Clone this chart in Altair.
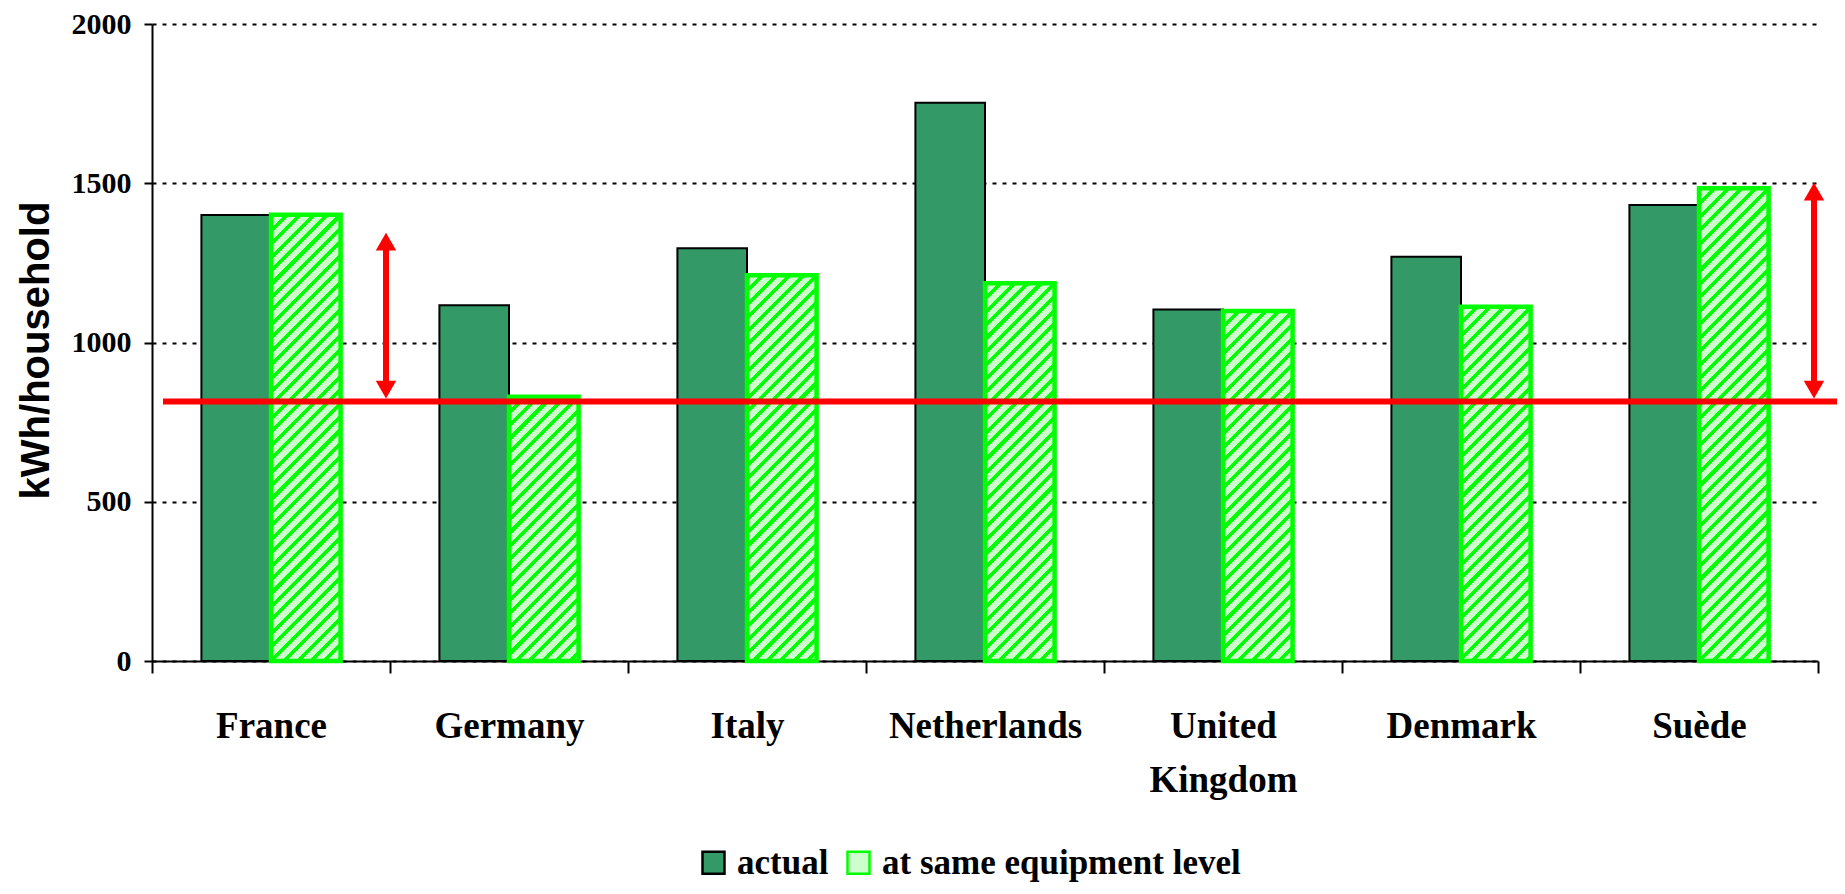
import math
import altair as alt
import pandas as pd

# ---- data ----
countries = ["France", "Germany", "Italy", "Netherlands", "United Kingdom", "Denmark", "Suède"]
actual = [1400, 1117, 1296, 1753, 1104, 1269, 1432]
same_level = [1401, 830, 1211, 1186, 1099, 1112, 1484]
series_names = ["actual", "at same equipment level"]
reference_level = [815]
arrow_at = ["France", "Suède"]
arrow_top = [1345, 1502]
y_ticks = [0, 500, 1000, 1500, 2000]

# ---- layout / style ----
W, H = 1666, 637
OFF_PAD = 0.71
DARK = "#339966"
LIGHT = "#ccffcc"
GREEN = "#00ff00"
RED = "#ff0000"
HATCH_PERIOD = 9.5
HATCH_LINE = 3.6

rows = []
for c, a, s in zip(countries, actual, same_level):
    rows.append({"country": c, "series": series_names[0], "value": a})
    rows.append({"country": c, "series": series_names[1], "value": s})
df = pd.DataFrame(rows)

x_axis = alt.Axis(
    title=None, tickBand="extent", tickSize=12, tickWidth=2, tickColor="black",
    domainColor="black", domainWidth=2, labelFont="Liberation Serif", labelFontSize=37,
    labelFontWeight="bold", labelColor="black", labelPadding=35, labelAngle=0,
    labelLimit=400, labelLineHeight=54, grid=False,
    labelExpr="datum.value == 'United Kingdom' ? ['United', 'Kingdom'] : datum.value",
)
y_axis = alt.Axis(
    values=y_ticks, format="d", title="kWh/household", titleFont="Liberation Sans",
    titleFontSize=40, titleFontWeight="bold", titleColor="black", titleAngle=270,
    titleX=-104, titleY=326, titleAlign="center", titleBaseline="alphabetic",
    labelFont="Liberation Serif", labelFontSize=30, labelFontWeight="bold",
    labelColor="black", labelPadding=13, tickSize=8, tickWidth=2, tickColor="black",
    domainColor="black", domainWidth=2, grid=True, gridColor="black",
    gridDash=[4, 6], gridWidth=2,
)
x_scale = alt.Scale(domain=countries, paddingInner=0, paddingOuter=0)
y_scale = alt.Scale(domain=[0, 2000], nice=False, zero=True)


def X(**kw):
    return alt.X("country:N", sort=countries, scale=x_scale, axis=x_axis, **kw)


def Y():
    return alt.Y("value:Q", scale=y_scale, axis=y_axis)


XO = alt.XOffset("series:N", scale=alt.Scale(domain=series_names, paddingInner=0, paddingOuter=OFF_PAD))

legend = alt.Legend(
    title=None, orient="none", legendX=544, legendY=821, direction="horizontal",
    symbolType="square", symbolSize=484, symbolStrokeWidth=2.5, symbolOpacity=1,
    labelFont="Liberation Serif", labelFontSize=35, labelFontWeight="bold",
    labelColor="black", labelOffset=6, columnPadding=12, padding=0, labelLimit=600,
)

actual_layer = alt.Chart(df).transform_filter(
    alt.datum.series == series_names[0]
).mark_bar(strokeWidth=2).encode(
    x=X(), xOffset=XO, y=Y(),
    fill=alt.Fill("series:N", scale=alt.Scale(domain=series_names, range=[DARK, LIGHT]), legend=legend),
    stroke=alt.Stroke("series:N", scale=alt.Scale(domain=series_names, range=["#000000", GREEN]), legend=legend),
)


def hatch(value):
    w = (W / len(countries)) / (len(series_names) + 2 * OFF_PAD)
    h = value * H / 2000.0
    L = w + h
    gx = w * L / (w * w + h * h)
    gy = h * L / (w * w + h * h)
    period = HATCH_PERIOD * math.sqrt(2) / L
    line = HATCH_LINE * math.sqrt(2) / L
    stops = []
    k = 0
    while k * period < 1:
        a = round(k * period, 5)
        b = round(min(k * period + line, 1), 5)
        c = round(min((k + 1) * period, 1), 5)
        stops += [
            {"offset": a, "color": GREEN}, {"offset": b, "color": GREEN},
            {"offset": b, "color": LIGHT}, {"offset": c, "color": LIGHT},
        ]
        k += 1
    return {"gradient": "linear", "x1": 0, "y1": 0, "x2": round(gx, 5), "y2": round(gy, 5), "stops": stops}


hatch_layers = []
for c, s in zip(countries, same_level):
    hatch_layers.append(
        alt.Chart(df).transform_filter(
            (alt.datum.series == series_names[1]) & (alt.datum.country == c)
        ).mark_bar(fill=hatch(s), stroke=GREEN, strokeWidth=4.5).encode(
            x=X(), xOffset=XO, y=Y()
        )
    )

ref_df = pd.DataFrame({"value": reference_level})
red_line = alt.Chart(ref_df).mark_rule(color=RED, strokeWidth=6).encode(
    y=Y(), x=alt.value(11), x2=alt.value(W + 19)
)

arrow_df = pd.DataFrame({
    "country": arrow_at,
    "value": [reference_level[0]] * len(arrow_at),
    "top": arrow_top,
})
shaft = alt.Chart(arrow_df).mark_rule(color=RED, strokeWidth=6, xOffset=-4, yOffset=-12, y2Offset=10).encode(
    x=X(bandPosition=1), y=Y(), y2=alt.Y2("top:Q")
)
head_up = alt.Chart(arrow_df).mark_point(
    shape="triangle-up", size=420, filled=True, color=RED, opacity=1, xOffset=-4, yOffset=8.9
).encode(x=X(bandPosition=1), y=alt.Y("top:Q", scale=y_scale, axis=y_axis))
head_down = alt.Chart(arrow_df).mark_point(
    shape="triangle-down", size=420, filled=True, color=RED, opacity=1, xOffset=-4, yOffset=-11.9
).encode(x=X(bandPosition=1), y=Y())

chart = alt.layer(
    actual_layer, *hatch_layers, red_line, shaft, head_up, head_down
).properties(
    width=W, height=H,
    autosize=alt.AutoSizeParams(type="none"),
    padding={"left": 144, "top": 16, "right": 19, "bottom": 225},
    background="white",
).configure_view(stroke=None)

chart.save("out.html", embed_options={"renderer": "svg", "actions": False})
